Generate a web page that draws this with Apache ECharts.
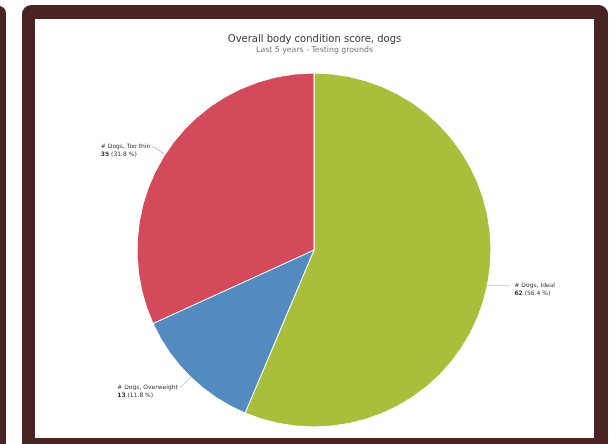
<!DOCTYPE html>
<html>
<head>
<meta charset="utf-8">
<script src="https://cdn.jsdelivr.net/npm/echarts@6/dist/echarts.min.js"></script>
<style>
html,body{margin:0;padding:0;width:610px;height:444px;overflow:hidden;background:#fff;}
#strip{position:absolute;left:-10px;top:6px;width:16px;height:520px;background:#4a2325;border-radius:7px;}
#frame{position:absolute;left:22px;top:5px;width:586px;height:480px;background:#4a2325;border-radius:9px;}
#chart{position:absolute;left:35px;top:19px;width:559px;height:419px;background:#fff;}
</style>
</head>
<body>
<div id="strip"></div>
<div id="frame"></div>
<div id="chart"></div>
<script>
const categories = ['# Dogs, Ideal', '# Dogs, Overweight', '# Dogs, Too thin'];
const values = [62, 13, 35];
const colors = ['#a9bf3b', '#538bc1', '#d34b5b'];
const lineLen = [[2, 20], [14, 1], [14, 1]];
const labelGap = [5, 2, 2];

const chart = echarts.init(document.getElementById('chart'));
chart.setOption({
  animation: false,
  title: {
    text: 'Overall body condition score, dogs',
    subtext: 'Last 5 years - Testing grounds',
    left: 'center',
    top: 10,
    itemGap: 2,
    textStyle: {fontFamily: 'DejaVu Sans', fontSize: 10, fontWeight: 'normal', color: '#3a3a3a'},
    subtextStyle: {fontFamily: 'DejaVu Sans', fontSize: 7.8, color: '#777'}
  },
  series: [{
    type: 'pie',
    center: [279, 231],
    radius: 177,
    startAngle: 90,
    clockwise: true,
    percentPrecision: 1,
    itemStyle: {borderColor: '#fff', borderWidth: 1},
    label: {
      show: true,
      position: 'outside',
      formatter: '{a|{b}}\n{n|{c}}{p| ({d} %)}',
      padding: [8, 0, 0, 0],
      rich: {
        a: {fontFamily: 'DejaVu Sans', fontSize: 6, color: '#333', lineHeight: 8, align: 'left'},
        n: {fontFamily: 'DejaVu Sans', fontSize: 6, color: '#333', fontWeight: 'bold', lineHeight: 8, align: 'left'},
        p: {fontFamily: 'DejaVu Sans', fontSize: 6, color: '#333', lineHeight: 8, align: 'left'}
      }
    },
    data: categories.map((c, i) => ({
      name: c,
      value: values[i],
      itemStyle: {color: colors[i]},
      label: {distanceToLabelLine: labelGap[i]},
      labelLine: {length: lineLen[i][0], length2: lineLen[i][1], lineStyle: {color: colors[i], opacity: 0.5, width: 1}}
    }))
  }]
});
</script>
</body>
</html>
